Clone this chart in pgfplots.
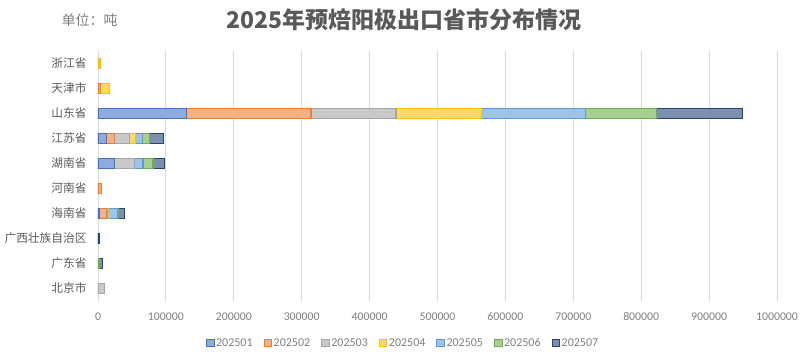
\documentclass[border=0pt]{standalone}
\usepackage{fontspec}
\setmainfont{Carlito}
\newfontfamily\cjk{Noto Sans CJK SC}
\usepackage{pgfplots}
\pgfplotsset{compat=1.18}
\usepackage{pgfplotstable}
\definecolor{c1}{HTML}{4472C4}
\definecolor{c2}{HTML}{ED7D31}
\definecolor{c3}{HTML}{A5A5A5}
\definecolor{c4}{HTML}{FFC000}
\definecolor{c5}{HTML}{5B9BD5}
\definecolor{c6}{HTML}{70AD47}
\definecolor{c7}{HTML}{264478}
\definecolor{txt}{HTML}{595959}
\definecolor{num}{HTML}{7F7F7F}
\definecolor{gridc}{HTML}{D9D9D9}

\pgfplotstableread{
idx m1 m2 m3 m4 m5 m6 m7
0 0 0 10000 0 0 0 0
1 0 0 0 0 0 1500 5000
2 0 0 0 0 0 0 2500
3 2000 10500 1500 1500 13500 1500 8500
4 0 5000 0 0 0 0 0
5 24000 0 30000 0 12300 14700 16700
6 13000 10800 22600 9300 10300 9800 20600
7 130000 183700 125200 125600 153200 104600 127200
8 0 4000 0 13000 0 0 0
9 0 0 0 3000 0 0 0
}\data

\begin{document}
\begin{tikzpicture}
\useasboundingbox (0,0) rectangle (809pt,359pt);
\begin{axis}[
  at={(98pt,58pt)}, anchor=south west,
  scale only axis, width=679pt, height=250pt,
  xbar stacked, bar width=10.5pt,
  xmin=0, xmax=1000000, ymin=-0.5, ymax=9.5,
  xtick={0,100000,200000,300000,400000,500000,600000,700000,800000,900000,1000000},
  scaled x ticks=false,
  /pgf/number format/fixed,
  /pgf/number format/1000 sep={},
  /pgf/number format/assume math mode=true,
  ytick={0,1,2,3,4,5,6,7,8,9},
  yticklabels={北京市,广东省,广西壮族自治区,海南省,河南省,湖南省,江苏省,山东省,天津市,浙江省},
  yticklabel style={font=\cjk\fontsize{11.7}{13}\selectfont, text=txt, xshift=-8pt},
  xticklabel style={font=\fontsize{11.8}{13}\selectfont, text=num, yshift=-8pt},
  xmajorgrids, major grid style={draw=gridc, line width=0.8pt},
  axis line style={draw=none}, tick style={draw=none}, major tick length=0pt,
  legend columns=7,
  legend image code/.code={\draw[#1, line width=1pt] (0pt,-3.8pt) rectangle (7.6pt,3.8pt);},
  legend style={draw=none, fill=none, at={(0.449,-0.168)}, anchor=center,
    font=\fontsize{12}{13}\selectfont, text=num,
    nodes={inner sep=1.5pt},
    /tikz/every even column/.append style={column sep=9.5pt}},
]
\addplot[fill=c1!60!white, draw=c1, line width=1.2pt] table[x=m1,y=idx]{\data};
\addplot[fill=c2!60!white, draw=c2, line width=1.2pt] table[x=m2,y=idx]{\data};
\addplot[fill=c3!60!white, draw=c3, line width=1.2pt] table[x=m3,y=idx]{\data};
\addplot[fill=c4!60!white, draw=c4, line width=1.2pt] table[x=m4,y=idx]{\data};
\addplot[fill=c5!60!white, draw=c5, line width=1.2pt] table[x=m5,y=idx]{\data};
\addplot[fill=c6!60!white, draw=c6, line width=1.2pt] table[x=m6,y=idx]{\data};
\addplot[fill=c7!60!white, draw=c7, line width=1.2pt] table[x=m7,y=idx]{\data};
\legend{202501,202502,202503,202504,202505,202506,202507}
\end{axis}
\node[anchor=center, text=txt, font=\cjk\bfseries\fontsize{23}{26}\selectfont] at (404pt,339pt) {2025年预焙阳极出口省市分布情况};
\node[anchor=west, text=num, font=\cjk\fontsize{14}{16}\selectfont] at (58pt,339pt) {单位：吨};
\end{tikzpicture}
\end{document}
